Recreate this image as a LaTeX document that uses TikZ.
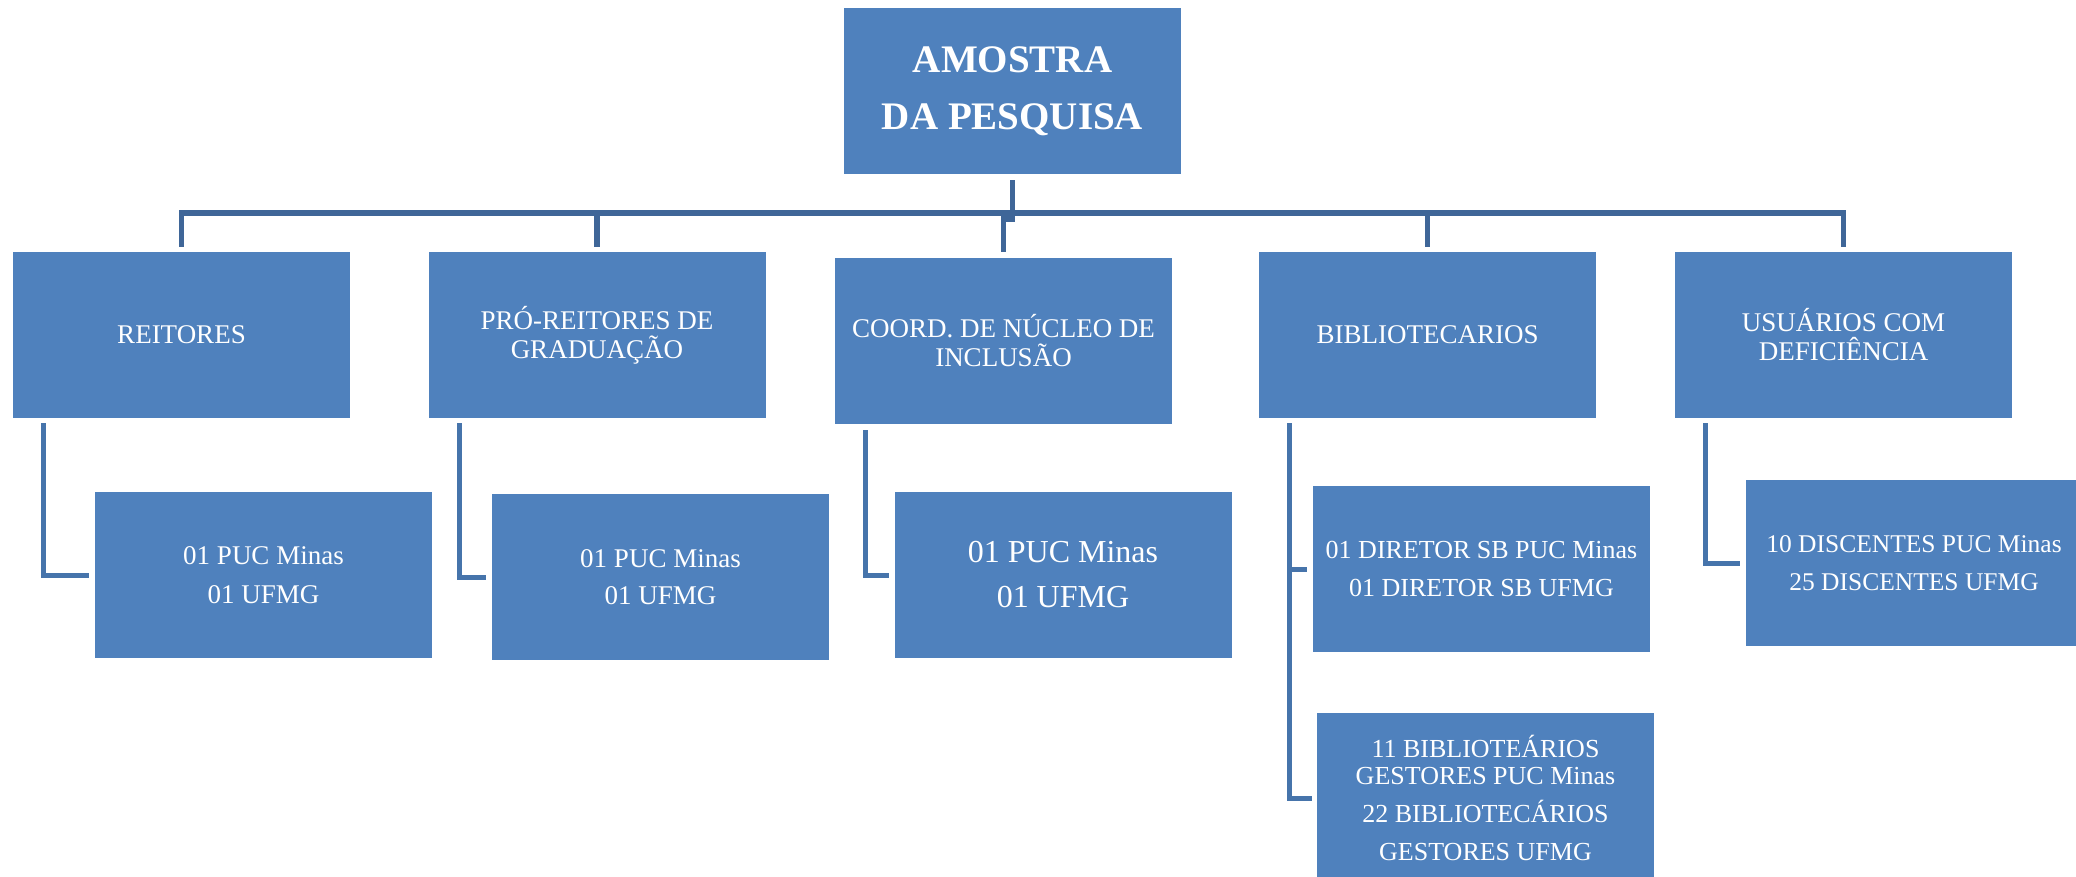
\documentclass[tikz,border=0pt]{standalone}
\usepackage{fontspec}
\setmainfont{Liberation Serif}
\definecolor{boxblue}{HTML}{4F81BD}
\definecolor{busblue}{HTML}{3F6698}
\definecolor{kidblue}{HTML}{4674AB}
\tikzset{
  orgbox/.style={fill=boxblue, draw=none, text=white, align=center, inner sep=0pt,
    minimum width=337pt, minimum height=166pt},
  fsA/.style={font=\fontsize{27}{29}\selectfont},
  busline/.style={draw=busblue, line width=5.5pt, line join=miter},
  kidline/.style={draw=kidblue, line width=5pt, line join=miter},
}
\begin{document}
\begin{tikzpicture}[x=1pt,y=-1pt]
\useasboundingbox (0,0) rectangle (2076,877);
% top
\node[orgbox, font=\fontsize{39}{57}\selectfont\bfseries] (top) at (1012.5,91) {AMOSTRA\\DA PESQUISA};
% level 1
\node[orgbox, fsA] (reit) at (181.5,335) {REITORES};
\node[orgbox, fsA] (pro) at (597,335) {PRÓ-REITORES DE\\GRADUAÇÃO};
\node[orgbox, fsA] (coord) at (1003.5,341) {COORD. DE NÚCLEO DE\\INCLUSÃO};
\node[orgbox, fsA] (bib) at (1427.5,335) {BIBLIOTECARIOS};
\node[orgbox, fsA] (usu) at (1843.5,335) {USUÁRIOS COM\\DEFICIÊNCIA};
% level 2
\node[orgbox, font=\fontsize{27}{39}\selectfont] (c1) at (263.5,575) {01 PUC Minas\\01 UFMG};
\node[orgbox, font=\fontsize{27}{37}\selectfont] (c2) at (660.5,577) {01 PUC Minas\\01 UFMG};
\node[orgbox, font=\fontsize{32}{45}\selectfont] (c3) at (1063,575) {01 PUC Minas\\01 UFMG};
\node[orgbox, font=\fontsize{26}{38}\selectfont] (dir) at (1481.5,569) {01 DIRETOR SB PUC Minas\\01 DIRETOR SB UFMG};
\node[orgbox, font=\fontsize{26}{27}\selectfont, minimum height=170pt] (gest) at (1485.5,798) {11 BIBLIOTEÁRIOS\\GESTORES PUC Minas\\[11pt]22 BIBLIOTECÁRIOS\\[11pt]GESTORES UFMG};
\node[orgbox, font=\fontsize{25.5}{38}\selectfont] (disc) at (1914,563) {10 DISCENTES PUC Minas\\25 DISCENTES UFMG};
% bus
\coordinate (bus) at (0,213);
\coordinate (jog) at (0,219);
\draw[busline] ([yshift=5pt]reit.north) -- (reit.north |- bus) -- (usu.north |- bus) -- ([yshift=5pt]usu.north);
\draw[busline] (pro.north |- bus) -- ([yshift=5pt]pro.north);
\draw[busline] (bib.north |- bus) -- ([yshift=5pt]bib.north);
\draw[busline] ([yshift=-6pt]top.south) -- (top.south |- jog) -- (coord.north |- jog) -- ([yshift=6pt]coord.north);
% children
\draw[kidline] ([xshift=31pt,yshift=-5pt]reit.south west) |- ([xshift=-6pt]c1.west);
\draw[kidline] ([xshift=31pt,yshift=-5pt]pro.south west) |- ([xshift=-6pt]c2.west);
\draw[kidline] ([xshift=31pt,yshift=-6pt]coord.south west) |- ([xshift=-5pt]c3.west);
\draw[kidline] ([xshift=31pt,yshift=-5pt]bib.south west) |- ([xshift=-5pt]gest.west);
\draw[kidline] ([xshift=31pt]bib.south west |- dir.west) -- ([xshift=-6pt]dir.west);
\draw[kidline] ([xshift=31pt,yshift=-5pt]usu.south west) |- ([xshift=-5pt]disc.west);
\end{tikzpicture}
\end{document}
